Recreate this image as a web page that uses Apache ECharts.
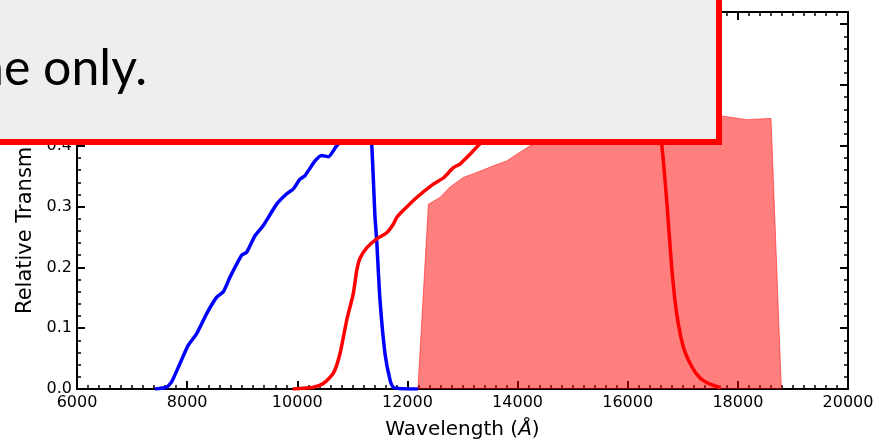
<!DOCTYPE html>
<html>
<head>
<meta charset="utf-8">
<script src="https://cdn.jsdelivr.net/npm/echarts@6/dist/echarts.min.js"></script>
<style>
  html, body { margin: 0; padding: 0; background: #fff; }
  #chart { width: 879px; height: 441px; }
</style>
</head>
<body>
<div id="chart"></div>
<script>
// wavelength (Angstrom), transmission pairs
var blueCurve = [
  [7416, 0.0], [7629, 0.003], [7720, 0.012], [7870, 0.042], [8021, 0.072],
  [8173, 0.091], [8355, 0.124], [8537, 0.151], [8657, 0.160], [8778, 0.184],
  [8990, 0.220], [9081, 0.225], [9232, 0.252], [9383, 0.269], [9626, 0.304],
  [9808, 0.321], [9928, 0.329], [10049, 0.345], [10140, 0.351], [10322, 0.375],
  [10443, 0.384], [10564, 0.382], [10715, 0.400], [10900, 0.415], [11100, 0.430],
  [11250, 0.440], [11310, 0.430], [11351, 0.403], [11411, 0.283], [11442, 0.244],
  [11502, 0.146], [11593, 0.058], [11684, 0.015], [11743, 0.003], [11850, 0.001],
  [12190, 0.0]
];
var redCurve = [
  [9916, 0.0], [10291, 0.003], [10473, 0.009], [10655, 0.026], [10775, 0.058],
  [10897, 0.113], [11017, 0.157], [11080, 0.195], [11139, 0.215], [11260, 0.232],
  [11442, 0.247], [11624, 0.257], [11743, 0.271], [11805, 0.282], [11894, 0.291],
  [12168, 0.315], [12470, 0.337], [12652, 0.347], [12834, 0.364], [12955, 0.370],
  [13137, 0.386], [13318, 0.403], [13600, 0.420], [14000, 0.440], [14500, 0.455],
  [15000, 0.465], [15500, 0.470], [16000, 0.470], [16400, 0.460], [16550, 0.440],
  [16617, 0.403], [16708, 0.310], [16799, 0.200], [16889, 0.124], [17010, 0.069],
  [17162, 0.037], [17313, 0.018], [17495, 0.008], [17690, 0.002]
];
var shadedBand = [
  [12190, 0.0], [12381, 0.304], [12591, 0.315], [12773, 0.332], [13015, 0.348],
  [13258, 0.356], [13560, 0.367], [13802, 0.375], [13984, 0.386], [14226, 0.400],
  [14600, 0.412], [15000, 0.420], [15500, 0.428], [16000, 0.435], [16500, 0.440],
  [17000, 0.445], [17400, 0.448], [17707, 0.449], [18161, 0.443], [18602, 0.445],
  [18790, 0.0]
];
var xTicks = { min: 6000, max: 20000, step: 2000 };
var yTicks = { min: 0, max: 0.62, step: 0.1, minorStep: 0.02 };

var chart = echarts.init(document.getElementById("chart"));
var font = "DejaVu Sans";
var black = "#000";

function xAx(pos, showLabel) {
  return {
    type: "value",
    position: pos,
    min: xTicks.min,
    max: xTicks.max,
    interval: xTicks.step,
    axisLine: { show: true, onZero: false, lineStyle: { color: black, width: 2 } },
    axisTick: { show: true, inside: true, length: 8, lineStyle: { color: black, width: 2 } },
    minorTick: { show: true, splitNumber: 10, length: 4, lineStyle: { color: black, width: 1.5 } },
    splitLine: { show: false },
    axisLabel: {
      show: showLabel, color: black, fontFamily: font, fontSize: 16, margin: 6,
      formatter: function (v) { return String(v); }
    }
  };
}
function yAx(pos, major, showLabel) {
  return {
    type: "value",
    position: pos,
    min: yTicks.min,
    max: yTicks.max,
    interval: major ? yTicks.step : yTicks.minorStep,
    axisLine: { show: true, onZero: false, lineStyle: { color: black, width: 2 } },
    axisTick: { show: true, inside: true, length: major ? 8 : 4,
      lineStyle: { color: black, width: major ? 2 : 1.5 } },
    splitLine: { show: false },
    axisLabel: {
      show: showLabel, showMaxLabel: false, color: black, fontFamily: font, fontSize: 16, margin: 5,
      formatter: function (v) { return v.toFixed(1); }
    }
  };
}

var xBottom = xAx("bottom", true);
xBottom.name = "{n|Wavelength (}{i|Å}{n|)}";
xBottom.nameLocation = "middle";
xBottom.nameGap = 31;
xBottom.nameTextStyle = {
  rich: {
    n: { fontFamily: font, fontSize: 20, color: black },
    i: { fontFamily: font, fontSize: 20, fontStyle: "italic", color: black }
  }
};

var yLeft = yAx("left", true, true);
yLeft.name = "Relative Transmission";
yLeft.nameLocation = "middle";
yLeft.nameGap = 35;
yLeft.nameTextStyle = { fontFamily: font, fontSize: 21, color: black };

var option = {
  animation: false,
  backgroundColor: "#fff",
  grid: { left: 77, right: 31, top: 12, bottom: 52, containLabel: false, outerBoundsMode: "none" },
  xAxis: [xBottom, xAx("top", false)],
  yAxis: [yLeft, yAx("left", false, false), yAx("right", true, false), yAx("right", false, false)],
  series: [
    {
      type: "line",
      data: shadedBand,
      showSymbol: false,
      lineStyle: { color: "rgba(255,0,0,0.5)", width: 1 },
      areaStyle: { color: "rgba(255,0,0,0.5)", origin: "start", opacity: 1 },
      z: 1
    },
    {
      type: "line",
      data: blueCurve,
      showSymbol: false,
      smooth: 0.2,
      lineStyle: { color: "#0000ff", width: 3.5 },
      z: 2
    },
    {
      type: "line",
      data: redCurve,
      showSymbol: false,
      smooth: 0.2,
      lineStyle: { color: "#ff0000", width: 3.5 },
      z: 3
    }
  ],
  // the grey caption box lying over the top of the figure
  graphic: [
    {
      type: "rect",
      z: 100,
      shape: { x: -20, y: -20, width: 739, height: 162 },
      style: { fill: "#eeeeee", stroke: "#ff0000", lineWidth: 6 }
    },
    {
      type: "text",
      z: 101,
      x: 147,
      y: 69,
      style: {
        text: "ne only.",
        fill: black,
        fontFamily: "Lato",
        fontSize: 50,
        align: "right",
        verticalAlign: "middle"
      }
    }
  ]
};

chart.setOption(option);
</script>
</body>
</html>
